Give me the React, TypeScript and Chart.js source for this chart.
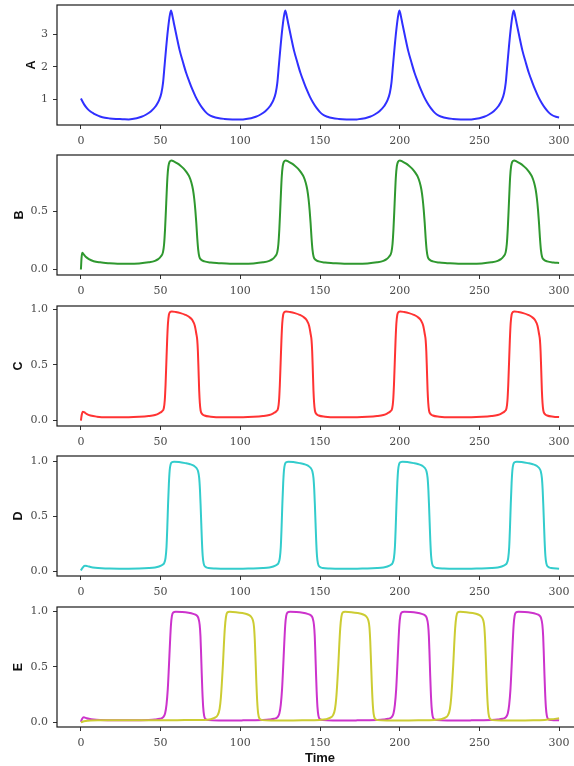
import React, { useEffect, useRef } from "react";
import { Chart, registerables } from "chart.js";

Chart.register(...registerables);

// ---------- data (time, value) ----------
const xTicks = [0, 50, 100, 150, 200, 250, 300];

const seriesA: [number, number][] = [
  [0, 1.03], [2, 0.85], [4, 0.72], [6, 0.63], [8, 0.57], [10, 0.52], [12, 0.48], [15, 0.44], [18, 0.42], [22, 0.405], [26, 0.398],
  [30, 0.39], [35, 0.425], [38, 0.47], [41, 0.54], [44, 0.64], [47, 0.8], [49, 0.97], [50.5, 1.2], [51.5, 1.5], [52.5, 2.05], [53.5, 2.6], [54.5, 3.1], [55.5, 3.5], [56.5, 3.73], [57.5, 3.55], [58.5, 3.3], [60, 2.95], [62, 2.5], [64, 2.15], [66, 1.82], [68, 1.55], [70, 1.3], [72, 1.08], [74, 0.9], [76, 0.75], [78, 0.63], [80, 0.54], [83, 0.47], [86, 0.43], [90, 0.405], [95, 0.39], [100, 0.385],
  [101.7, 0.39], [106.7, 0.425], [109.7, 0.47], [112.7, 0.54], [115.7, 0.64], [118.7, 0.8], [120.7, 0.97], [122.2, 1.2], [123.2, 1.5], [124.2, 2.05], [125.2, 2.6], [126.2, 3.1], [127.2, 3.5], [128.2, 3.73], [129.2, 3.55], [130.2, 3.3], [131.7, 2.95], [133.7, 2.5], [135.7, 2.15], [137.7, 1.82], [139.7, 1.55], [141.7, 1.3], [143.7, 1.08], [145.7, 0.9], [147.7, 0.75], [149.7, 0.63], [151.7, 0.54], [154.7, 0.47], [157.7, 0.43], [161.7, 0.405], [166.7, 0.39], [171.7, 0.385],
  [173.3, 0.39], [178.3, 0.425], [181.3, 0.47], [184.3, 0.54], [187.3, 0.64], [190.3, 0.8], [192.3, 0.97], [193.8, 1.2], [194.8, 1.5], [195.8, 2.05], [196.8, 2.6], [197.8, 3.1], [198.8, 3.5], [199.8, 3.73], [200.8, 3.55], [201.8, 3.3], [203.3, 2.95], [205.3, 2.5], [207.3, 2.15], [209.3, 1.82], [211.3, 1.55], [213.3, 1.3], [215.3, 1.08], [217.3, 0.9], [219.3, 0.75], [221.3, 0.63], [223.3, 0.54], [226.3, 0.47], [229.3, 0.43], [233.3, 0.405], [238.3, 0.39], [243.3, 0.385],
  [245, 0.39], [250, 0.425], [253, 0.47], [256, 0.54], [259, 0.64], [262, 0.8], [264, 0.97], [265.5, 1.2], [266.5, 1.5], [267.5, 2.05], [268.5, 2.6], [269.5, 3.1], [270.5, 3.5], [271.5, 3.73], [272.5, 3.55], [273.5, 3.3], [275, 2.95], [277, 2.5], [279, 2.15], [281, 1.82], [283, 1.55], [285, 1.3], [287, 1.08], [289, 0.9], [291, 0.75], [293, 0.63], [295, 0.54], [298, 0.47], [300, 0.45],
];

const seriesB: [number, number][] = [
  [0, 0], [0.4, 0.1], [0.8, 0.145], [1.5, 0.135], [3, 0.11], [5, 0.09], [8, 0.072], [12, 0.062], [17, 0.055], [23, 0.05],
  [30, 0.05], [36.5, 0.053], [42.5, 0.062], [46.5, 0.075], [48.5, 0.09], [50, 0.11], [51.5, 0.15], [52.2, 0.22], [52.8, 0.35], [53.3, 0.5], [53.8, 0.66], [54.3, 0.8], [54.9, 0.89], [55.7, 0.93], [56.8, 0.94], [58.5, 0.93], [60.5, 0.915], [62.5, 0.895], [64.5, 0.87], [66.5, 0.835], [68, 0.8], [69.3, 0.75], [70.3, 0.69], [71.1, 0.61], [71.8, 0.51], [72.4, 0.4], [73, 0.27], [73.6, 0.17], [74.3, 0.11], [75.5, 0.085], [77.5, 0.07], [81.5, 0.06], [86.5, 0.055], [93.5, 0.05], [100, 0.05],
  [101.7, 0.05], [108.2, 0.053], [114.2, 0.062], [118.2, 0.075], [120.2, 0.09], [121.7, 0.11], [123.2, 0.15], [123.9, 0.22], [124.5, 0.35], [125, 0.5], [125.5, 0.66], [126, 0.8], [126.6, 0.89], [127.4, 0.93], [128.5, 0.94], [130.2, 0.93], [132.2, 0.915], [134.2, 0.895], [136.2, 0.87], [138.2, 0.835], [139.7, 0.8], [141, 0.75], [142, 0.69], [142.8, 0.61], [143.5, 0.51], [144.1, 0.4], [144.7, 0.27], [145.3, 0.17], [146, 0.11], [147.2, 0.085], [149.2, 0.07], [153.2, 0.06], [158.2, 0.055], [165.2, 0.05], [171.7, 0.05],
  [173.3, 0.05], [179.8, 0.053], [185.8, 0.062], [189.8, 0.075], [191.8, 0.09], [193.3, 0.11], [194.8, 0.15], [195.5, 0.22], [196.1, 0.35], [196.6, 0.5], [197.1, 0.66], [197.6, 0.8], [198.2, 0.89], [199, 0.93], [200.1, 0.94], [201.8, 0.93], [203.8, 0.915], [205.8, 0.895], [207.8, 0.87], [209.8, 0.835], [211.3, 0.8], [212.6, 0.75], [213.6, 0.69], [214.4, 0.61], [215.1, 0.51], [215.7, 0.4], [216.3, 0.27], [216.9, 0.17], [217.6, 0.11], [218.8, 0.085], [220.8, 0.07], [224.8, 0.06], [229.8, 0.055], [236.8, 0.05], [243.3, 0.05],
  [245, 0.05], [251.5, 0.053], [257.5, 0.062], [261.5, 0.075], [263.5, 0.09], [265, 0.11], [266.5, 0.15], [267.2, 0.22], [267.8, 0.35], [268.3, 0.5], [268.8, 0.66], [269.3, 0.8], [269.9, 0.89], [270.7, 0.93], [271.8, 0.94], [273.5, 0.93], [275.5, 0.915], [277.5, 0.895], [279.5, 0.87], [281.5, 0.835], [283, 0.8], [284.3, 0.75], [285.3, 0.69], [286.1, 0.61], [286.8, 0.51], [287.4, 0.4], [288, 0.27], [288.6, 0.17], [289.3, 0.11], [290.5, 0.085], [292.5, 0.07], [296.5, 0.06], [300, 0.057],
];

const seriesC: [number, number][] = [
  [0, 0], [0.5, 0.05], [1.2, 0.08], [2, 0.075], [3.5, 0.06], [6, 0.045], [10, 0.035], [16, 0.03], [23, 0.03],
  [30, 0.03], [36.5, 0.033], [42.5, 0.04], [46.5, 0.05], [49, 0.065], [51, 0.085], [52, 0.11], [52.6, 0.18], [53.1, 0.32], [53.6, 0.52], [54.1, 0.72], [54.6, 0.87], [55.2, 0.95], [56, 0.975], [57, 0.98], [59.5, 0.975], [62.5, 0.965], [65.5, 0.95], [68, 0.93], [70, 0.9], [71.5, 0.85], [72.4, 0.78], [73, 0.72], [73.4, 0.62], [73.8, 0.45], [74.2, 0.27], [74.6, 0.16], [75.1, 0.09], [76, 0.06], [77.5, 0.045], [81.5, 0.035], [88.5, 0.03], [100, 0.03],
  [101.7, 0.03], [108.2, 0.033], [114.2, 0.04], [118.2, 0.05], [120.7, 0.065], [122.7, 0.085], [123.7, 0.11], [124.3, 0.18], [124.8, 0.32], [125.3, 0.52], [125.8, 0.72], [126.3, 0.87], [126.9, 0.95], [127.7, 0.975], [128.7, 0.98], [131.2, 0.975], [134.2, 0.965], [137.2, 0.95], [139.7, 0.93], [141.7, 0.9], [143.2, 0.85], [144.1, 0.78], [144.7, 0.72], [145.1, 0.62], [145.5, 0.45], [145.9, 0.27], [146.3, 0.16], [146.8, 0.09], [147.7, 0.06], [149.2, 0.045], [153.2, 0.035], [160.2, 0.03], [171.7, 0.03],
  [173.3, 0.03], [179.8, 0.033], [185.8, 0.04], [189.8, 0.05], [192.3, 0.065], [194.3, 0.085], [195.3, 0.11], [195.9, 0.18], [196.4, 0.32], [196.9, 0.52], [197.4, 0.72], [197.9, 0.87], [198.5, 0.95], [199.3, 0.975], [200.3, 0.98], [202.8, 0.975], [205.8, 0.965], [208.8, 0.95], [211.3, 0.93], [213.3, 0.9], [214.8, 0.85], [215.7, 0.78], [216.3, 0.72], [216.7, 0.62], [217.1, 0.45], [217.5, 0.27], [217.9, 0.16], [218.4, 0.09], [219.3, 0.06], [220.8, 0.045], [224.8, 0.035], [231.8, 0.03], [243.3, 0.03],
  [245, 0.03], [251.5, 0.033], [257.5, 0.04], [261.5, 0.05], [264, 0.065], [266, 0.085], [267, 0.11], [267.6, 0.18], [268.1, 0.32], [268.6, 0.52], [269.1, 0.72], [269.6, 0.87], [270.2, 0.95], [271, 0.975], [272, 0.98], [274.5, 0.975], [277.5, 0.965], [280.5, 0.95], [283, 0.93], [285, 0.9], [286.5, 0.85], [287.4, 0.78], [288, 0.72], [288.4, 0.62], [288.8, 0.45], [289.2, 0.27], [289.6, 0.16], [290.1, 0.09], [291, 0.06], [292.5, 0.045], [296.5, 0.035], [300, 0.032],
];

const seriesD: [number, number][] = [
  [0, 0.005], [1, 0.03], [2.5, 0.048], [4, 0.045], [6, 0.038], [9, 0.031], [13, 0.026], [18, 0.023], [24, 0.022],
  [30, 0.022], [36.5, 0.023], [42.5, 0.027], [46.5, 0.033], [49, 0.042], [51, 0.055], [52.3, 0.075], [53.1, 0.12], [53.7, 0.22], [54.2, 0.4], [54.7, 0.62], [55.2, 0.8], [55.7, 0.92], [56.3, 0.975], [57.1, 0.993], [58.5, 0.998], [61.5, 0.995], [65.5, 0.985], [68.5, 0.975], [71, 0.96], [72.5, 0.94], [73.5, 0.91], [74.2, 0.85], [74.7, 0.74], [75.1, 0.6], [75.5, 0.44], [75.9, 0.28], [76.4, 0.14], [77, 0.07], [78, 0.04], [80, 0.028], [84.5, 0.023], [91.5, 0.021], [100, 0.021],
  [101.7, 0.022], [108.2, 0.023], [114.2, 0.027], [118.2, 0.033], [120.7, 0.042], [122.7, 0.055], [124, 0.075], [124.8, 0.12], [125.4, 0.22], [125.9, 0.4], [126.4, 0.62], [126.9, 0.8], [127.4, 0.92], [128, 0.975], [128.8, 0.993], [130.2, 0.998], [133.2, 0.995], [137.2, 0.985], [140.2, 0.975], [142.7, 0.96], [144.2, 0.94], [145.2, 0.91], [145.9, 0.85], [146.4, 0.74], [146.8, 0.6], [147.2, 0.44], [147.6, 0.28], [148.1, 0.14], [148.7, 0.07], [149.7, 0.04], [151.7, 0.028], [156.2, 0.023], [163.2, 0.021], [171.7, 0.021],
  [173.3, 0.022], [179.8, 0.023], [185.8, 0.027], [189.8, 0.033], [192.3, 0.042], [194.3, 0.055], [195.6, 0.075], [196.4, 0.12], [197, 0.22], [197.5, 0.4], [198, 0.62], [198.5, 0.8], [199, 0.92], [199.6, 0.975], [200.4, 0.993], [201.8, 0.998], [204.8, 0.995], [208.8, 0.985], [211.8, 0.975], [214.3, 0.96], [215.8, 0.94], [216.8, 0.91], [217.5, 0.85], [218, 0.74], [218.4, 0.6], [218.8, 0.44], [219.2, 0.28], [219.7, 0.14], [220.3, 0.07], [221.3, 0.04], [223.3, 0.028], [227.8, 0.023], [234.8, 0.021], [243.3, 0.021],
  [245, 0.022], [251.5, 0.023], [257.5, 0.027], [261.5, 0.033], [264, 0.042], [266, 0.055], [267.3, 0.075], [268.1, 0.12], [268.7, 0.22], [269.2, 0.4], [269.7, 0.62], [270.2, 0.8], [270.7, 0.92], [271.3, 0.975], [272.1, 0.993], [273.5, 0.998], [276.5, 0.995], [280.5, 0.985], [283.5, 0.975], [286, 0.96], [287.5, 0.94], [288.5, 0.91], [289.2, 0.85], [289.7, 0.74], [290.1, 0.6], [290.5, 0.44], [290.9, 0.28], [291.4, 0.14], [292, 0.07], [293, 0.04], [295, 0.028], [300, 0.022],
];

const seriesE1: [number, number][] = [
  [0, 0.005], [0.7, 0.03], [1.8, 0.045], [3, 0.04], [5, 0.032], [8, 0.025], [12, 0.021], [18, 0.019], [24, 0.018],
  [30, 0.018], [36.5, 0.019], [42.5, 0.021], [46.5, 0.025], [49.5, 0.032], [51.5, 0.045], [52.8, 0.08], [53.7, 0.16], [54.5, 0.3], [55.2, 0.5], [55.9, 0.72], [56.5, 0.88], [57.1, 0.96], [57.9, 0.99], [59.5, 0.997], [63.5, 0.995], [67.5, 0.988], [70.5, 0.978], [72.5, 0.965], [73.7, 0.94], [74.5, 0.88], [75, 0.78], [75.4, 0.62], [75.8, 0.44], [76.2, 0.28], [76.7, 0.14], [77.3, 0.06], [78.1, 0.03], [80, 0.02], [86.5, 0.017], [100, 0.017],
  [101.7, 0.018], [108.2, 0.019], [114.2, 0.021], [118.2, 0.025], [121.2, 0.032], [123.2, 0.045], [124.5, 0.08], [125.4, 0.16], [126.2, 0.3], [126.9, 0.5], [127.6, 0.72], [128.2, 0.88], [128.8, 0.96], [129.6, 0.99], [131.2, 0.997], [135.2, 0.995], [139.2, 0.988], [142.2, 0.978], [144.2, 0.965], [145.4, 0.94], [146.2, 0.88], [146.7, 0.78], [147.1, 0.62], [147.5, 0.44], [147.9, 0.28], [148.4, 0.14], [149, 0.06], [149.8, 0.03], [151.7, 0.02], [158.2, 0.017], [171.7, 0.017],
  [173.3, 0.018], [179.8, 0.019], [185.8, 0.021], [189.8, 0.025], [192.8, 0.032], [194.8, 0.045], [196.1, 0.08], [197, 0.16], [197.8, 0.3], [198.5, 0.5], [199.2, 0.72], [199.8, 0.88], [200.4, 0.96], [201.2, 0.99], [202.8, 0.997], [206.8, 0.995], [210.8, 0.988], [213.8, 0.978], [215.8, 0.965], [217, 0.94], [217.8, 0.88], [218.3, 0.78], [218.7, 0.62], [219.1, 0.44], [219.5, 0.28], [220, 0.14], [220.6, 0.06], [221.4, 0.03], [223.3, 0.02], [229.8, 0.017], [243.3, 0.017],
  [245, 0.018], [251.5, 0.019], [257.5, 0.021], [261.5, 0.025], [264.5, 0.032], [266.5, 0.045], [267.8, 0.08], [268.7, 0.16], [269.5, 0.3], [270.2, 0.5], [270.9, 0.72], [271.5, 0.88], [272.1, 0.96], [272.9, 0.99], [274.5, 0.997], [278.5, 0.995], [282.5, 0.988], [285.5, 0.978], [287.5, 0.965], [288.7, 0.94], [289.5, 0.88], [290, 0.78], [290.4, 0.62], [290.8, 0.44], [291.2, 0.28], [291.7, 0.14], [292.3, 0.06], [293.1, 0.03], [295, 0.02], [300, 0.018],
];

const seriesE2: [number, number][] = [
  [0, 0], [1, 0.006], [3, 0.012], [6, 0.016], [12, 0.018], [25, 0.019], [45, 0.019], [65, 0.02],
  [77.3, 0.022], [81.3, 0.028], [83.8, 0.04], [85.8, 0.065], [87, 0.12], [87.8, 0.22], [88.5, 0.37], [89.1, 0.52], [89.7, 0.7], [90.3, 0.85], [91, 0.95], [91.8, 0.99], [93.3, 0.997], [97.3, 0.993], [101.3, 0.985], [104.3, 0.975], [106.6, 0.955], [107.9, 0.92], [108.6, 0.86], [109.1, 0.74], [109.6, 0.55], [110.1, 0.35], [110.6, 0.19], [111.2, 0.08], [112, 0.035], [113.8, 0.02], [119.3, 0.016], [129.3, 0.016], [139.3, 0.018],
  [149.7, 0.022], [153.7, 0.028], [156.2, 0.04], [158.2, 0.065], [159.4, 0.12], [160.2, 0.22], [160.9, 0.37], [161.5, 0.52], [162.1, 0.7], [162.7, 0.85], [163.4, 0.95], [164.2, 0.99], [165.7, 0.997], [169.7, 0.993], [173.7, 0.985], [176.7, 0.975], [179, 0.955], [180.3, 0.92], [181, 0.86], [181.5, 0.74], [182, 0.55], [182.5, 0.35], [183, 0.19], [183.6, 0.08], [184.4, 0.035], [186.2, 0.02], [191.7, 0.016], [201.7, 0.016], [211.7, 0.018],
  [221.8, 0.022], [225.8, 0.028], [228.3, 0.04], [230.3, 0.065], [231.5, 0.12], [232.3, 0.22], [233, 0.37], [233.6, 0.52], [234.2, 0.7], [234.8, 0.85], [235.5, 0.95], [236.3, 0.99], [237.8, 0.997], [241.8, 0.993], [245.8, 0.985], [248.8, 0.975], [251.1, 0.955], [252.4, 0.92], [253.1, 0.86], [253.6, 0.74], [254.1, 0.55], [254.6, 0.35], [255.1, 0.19], [255.7, 0.08], [256.5, 0.035], [258.3, 0.02], [263.8, 0.016], [273.8, 0.016], [283.8, 0.018],
  [291, 0.022], [295, 0.027], [300, 0.037],
];

const labelsY = ["A", "B", "C", "D", "E"];
const yTicksA = [1, 2, 3];
const yTicksUnit = [0, 0.5, 1];
const yTicksB = [0, 0.5];

// ---------- layout / style ----------
type Series = { pts: [number, number][]; color: string };
type PanelDef = {
  label: string;
  series: Series[];
  yMin: number;
  yMax: number;
  yTicks: number[];
  decimals: number;
  top: number;
  titlePad: number;
  last?: boolean;
};

const panels: PanelDef[] = [
  { label: labelsY[0], series: [{ pts: seriesA, color: "#3030ff" }], yMin: 0.218, yMax: 3.9, yTicks: yTicksA, decimals: 0, top: 5, titlePad: 24 },
  { label: labelsY[1], series: [{ pts: seriesB, color: "#2f982f" }], yMin: -0.047, yMax: 0.987, yTicks: yTicksB, decimals: 1, top: 155, titlePad: 12 },
  { label: labelsY[2], series: [{ pts: seriesC, color: "#ff3333" }], yMin: -0.049, yMax: 1.029, yTicks: yTicksUnit, decimals: 1, top: 306, titlePad: 11 },
  { label: labelsY[3], series: [{ pts: seriesD, color: "#33cccc" }], yMin: -0.045, yMax: 1.05, yTicks: yTicksUnit, decimals: 1, top: 456, titlePad: 11 },
  {
    label: labelsY[4],
    series: [
      { pts: seriesE2, color: "#cccc33" },
      { pts: seriesE1, color: "#cc33cc" },
    ],
    yMin: -0.042,
    yMax: 1.04,
    yTicks: yTicksUnit,
    decimals: 1,
    top: 607,
    titlePad: 11,
    last: true,
  },
];

const CANVAS_W = 590;
const PLOT_H = 120;
const PAD_TOP = 5;

const framePlugin = {
  id: "frame",
  afterDraw(chart: any) {
    const { ctx, chartArea } = chart;
    const { left, top, right, bottom } = chartArea;
    ctx.save();
    ctx.strokeStyle = "#1a1a1a";
    ctx.lineWidth = 1.2;
    ctx.strokeRect(left, top, right - left, bottom - top);
    ctx.restore();
  },
};

function Panel({ def }: { def: PanelDef }) {
  const ref = useRef<HTMLCanvasElement | null>(null);
  const xAxisH = def.last ? 39 : 25;
  const h = PAD_TOP + PLOT_H + xAxisH;

  useEffect(() => {
    if (!ref.current) return;
    const chart = new Chart(ref.current, {
      type: "line",
      data: {
        datasets: def.series.map((s) => ({
          data: s.pts.map(([x, y]) => ({ x, y })),
          borderColor: s.color,
          backgroundColor: s.color,
          borderWidth: 2,
          pointRadius: 0,
          fill: false,
          cubicInterpolationMode: "monotone" as const,
        })),
      },
      options: {
        responsive: false,
        animation: false,
        devicePixelRatio: 1,
        layout: { padding: { top: PAD_TOP, right: 7, left: 0, bottom: 0 } },
        plugins: { legend: { display: false }, tooltip: { enabled: false } },
        scales: {
          x: {
            type: "linear",
            min: -15,
            max: 315,
            afterBuildTicks: (s: any) => {
              s.ticks = xTicks.map((v) => ({ value: v }));
            },
            afterFit: (s: any) => {
              s.height = xAxisH;
              s.paddingLeft = 0;
              s.paddingRight = 0;
            },
            grid: { display: true, drawOnChartArea: false, drawTicks: true, tickLength: 4, color: "#333", lineWidth: 1 },
            border: { display: false },
            ticks: {
              color: "#4a4a4a",
              font: { family: "DejaVu Serif", size: 11 },
              padding: 6,
              maxRotation: 0,
              autoSkip: false,
              callback: (v: any) => String(v),
            },
            title: {
              display: !!def.last,
              text: "Time",
              color: "#111",
              font: { family: "Liberation Sans", size: 13, weight: "bold" },
              padding: { top: 0, bottom: 0 },
            },
          },
          y: {
            type: "linear",
            min: def.yMin,
            max: def.yMax,
            afterBuildTicks: (s: any) => {
              s.ticks = def.yTicks.map((v) => ({ value: v }));
            },
            afterFit: (s: any) => {
              s.width = 57;
              s.paddingTop = 0;
              s.paddingBottom = 0;
            },
            grid: { display: true, drawOnChartArea: false, drawTicks: true, tickLength: 4, color: "#333", lineWidth: 1 },
            border: { display: false },
            ticks: {
              color: "#4a4a4a",
              font: { family: "DejaVu Serif", size: 11 },
              padding: 5,
              autoSkip: false,
              callback: (v: any) => Number(v).toFixed(def.decimals),
            },
            title: {
              display: true,
              text: def.label,
              color: "#111",
              font: { family: "Liberation Sans", size: 12.5, weight: "bold" },
              padding: { top: def.titlePad, bottom: 0 },
            },
          },
        },
      } as any,
      plugins: [framePlugin],
    });
    return () => chart.destroy();
  }, []);

  return (
    <canvas
      ref={ref}
      width={CANVAS_W}
      height={h}
      style={{ position: "absolute", left: 0, top: def.top - PAD_TOP, width: CANVAS_W, height: h }}
    />
  );
}

export default function App() {
  return (
    <div
      style={{
        position: "fixed",
        left: 0,
        top: 0,
        width: 574,
        height: 766,
        overflow: "hidden",
        background: "#ffffff",
      }}
    >
      {panels.map((p) => (
        <Panel key={p.label} def={p} />
      ))}
    </div>
  );
}
